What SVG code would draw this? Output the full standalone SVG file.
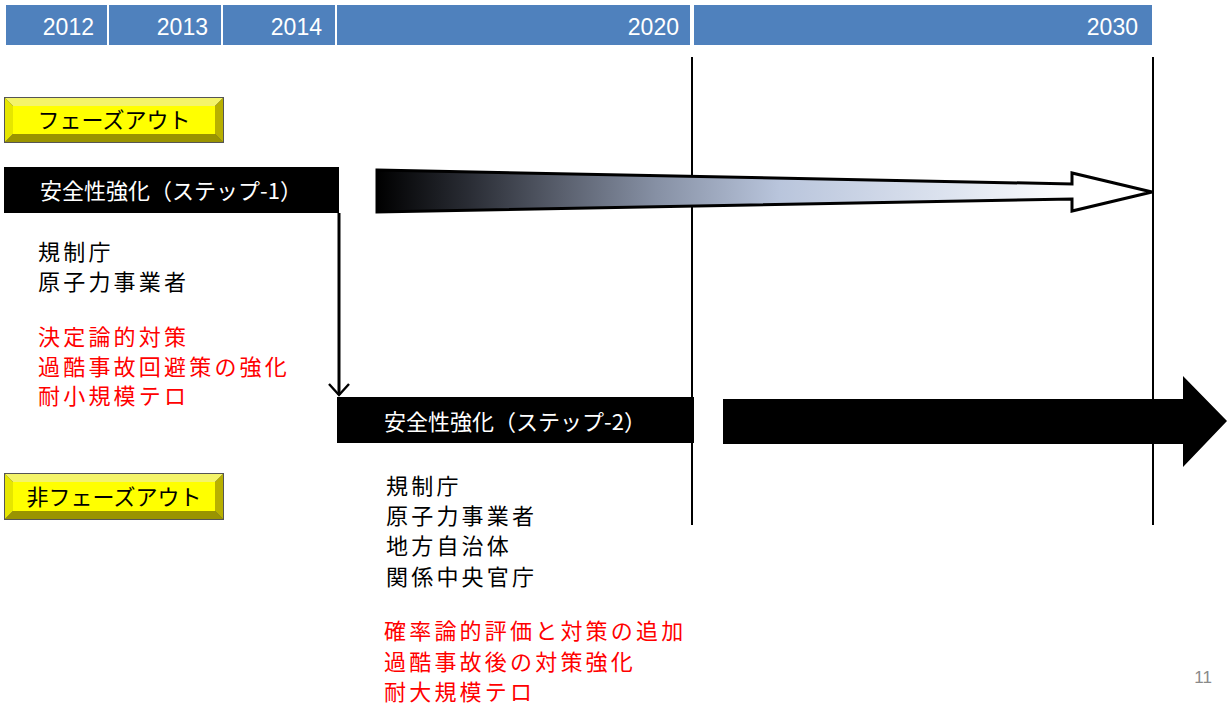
<svg xmlns="http://www.w3.org/2000/svg" width="1227" height="708" viewBox="0 0 1227 708">
<style>
.hdr{fill:#4f81bd}
.yr{font-family:"Liberation Sans",Arial,sans-serif;font-size:23px;fill:#fff;text-anchor:end}
.lbl{font-family:"Noto Sans CJK JP",sans-serif;font-size:22px;letter-spacing:3.2px;fill:#000}
.red{fill:#ff0000}
.box{fill:#000}
.boxt{font-family:"Noto Sans CJK JP",sans-serif;font-size:22px;fill:#fff;text-anchor:middle}
.btnt{font-family:"Noto Sans CJK JP",sans-serif;font-size:22px;fill:#000;text-anchor:middle}
.vline{stroke:#000;stroke-width:2}
</style>
<defs>
<linearGradient id="g1" x1="377" y1="0" x2="1152" y2="0" gradientUnits="userSpaceOnUse">
<stop offset="0" stop-color="#000000"/>
<stop offset="0.12" stop-color="#2a2d35"/>
<stop offset="0.24" stop-color="#5a606e"/>
<stop offset="0.36" stop-color="#8690a4"/>
<stop offset="0.52" stop-color="#b9c5dc"/>
<stop offset="0.75" stop-color="#dfe5f0"/>
<stop offset="0.9" stop-color="#ffffff"/>
<stop offset="1" stop-color="#ffffff"/>
</linearGradient>
<marker id="vhead" markerWidth="14" markerHeight="24" refX="12" refY="12" orient="auto" markerUnits="userSpaceOnUse" viewBox="0 0 14 24">
<path d="M1,2 L12,12 L1,22" fill="none" stroke="#000" stroke-width="2.4"/>
</marker>
</defs>

<g id="header">
<rect class="hdr" x="6" y="5" width="101" height="40"/>
<rect class="hdr" x="109" y="5" width="112" height="40"/>
<rect class="hdr" x="223" y="5" width="112" height="40"/>
<rect class="hdr" x="337" y="5" width="353" height="40"/>
<rect class="hdr" x="694" y="5" width="458" height="40"/>
<text class="yr" x="94" y="35">2012</text>
<text class="yr" x="208" y="35">2013</text>
<text class="yr" x="322" y="35">2014</text>
<text class="yr" x="679" y="35">2020</text>
<text class="yr" x="1138" y="35">2030</text>
</g>

<g id="gridlines">
<line class="vline" x1="692" y1="57" x2="692" y2="525"/>
<line class="vline" x1="1153" y1="57" x2="1153" y2="525"/>
</g>

<g id="btn-phaseout">
<rect x="4" y="97" width="220" height="46" fill="#555"/>
<polygon points="5,98 223,98 215,106 13,106" fill="#f4f46a"/>
<polygon points="5,98 13,106 13,134 5,142" fill="#e6e600"/>
<polygon points="223,98 223,142 215,134 215,106" fill="#b8b000"/>
<polygon points="5,142 13,134 215,134 223,142" fill="#9a9400"/>
<rect x="13" y="106" width="202" height="28" fill="#ffff00"/>
<text class="btnt" x="114" y="128">フェーズアウト</text>
</g>

<g id="btn-nonphaseout">
<rect x="4" y="473" width="220" height="47" fill="#555"/>
<polygon points="5,474 223,474 215,482 13,482" fill="#f4f46a"/>
<polygon points="5,474 13,482 13,511 5,519" fill="#e6e600"/>
<polygon points="223,474 223,519 215,511 215,482" fill="#b8b000"/>
<polygon points="5,519 13,511 215,511 223,519" fill="#9a9400"/>
<rect x="13" y="482" width="202" height="29" fill="#ffff00"/>
<text class="btnt" x="114" y="505">非フェーズアウト</text>
</g>

<g id="step1">
<rect class="box" x="4" y="167" width="335" height="46"/>
<text class="boxt" x="171" y="199">安全性強化（ステップ-1）</text>
</g>

<g id="step1-notes">
<text class="lbl" x="38" y="260">規制庁</text>
<text class="lbl" x="38" y="290">原子力事業者</text>
<text class="lbl red" x="38" y="345">決定論的対策</text>
<text class="lbl red" x="38" y="375">過酷事故回避策の強化</text>
<text class="lbl red" x="38" y="404">耐小規模テロ</text>
</g>

<g id="step2">
<rect class="box" x="337" y="397" width="357" height="46"/>
<text class="boxt" x="515" y="430">安全性強化（ステップ-2）</text>
</g>

<g id="step2-notes">
<text class="lbl" x="386" y="494">規制庁</text>
<text class="lbl" x="386" y="524">原子力事業者</text>
<text class="lbl" x="386" y="554">地方自治体</text>
<text class="lbl" x="386" y="585">関係中央官庁</text>
<text class="lbl red" x="384" y="639">確率論的評価と対策の追加</text>
<text class="lbl red" x="384" y="670">過酷事故後の対策強化</text>
<text class="lbl red" x="384" y="700">耐大規模テロ</text>
</g>

<g id="arrows">
<polygon points="377,170 1072,184 1072,173 1152,192 1072,211 1072,199 377,212" fill="url(#g1)" stroke="#000" stroke-width="3" stroke-linejoin="miter"/>
<polygon points="723,399 1183,399 1183,376 1227,421 1183,467 1183,444 723,444" fill="#000"/>
</g>

<g id="connectors">
<line x1="339" y1="213" x2="339" y2="395" stroke="#000" stroke-width="3" marker-end="url(#vhead)"/>
</g>

<g id="page">
<text x="1212" y="683" font-family="Liberation Sans,Arial,sans-serif" font-size="17" fill="#8a8a8a" text-anchor="end">11</text>
</g>
</svg>
